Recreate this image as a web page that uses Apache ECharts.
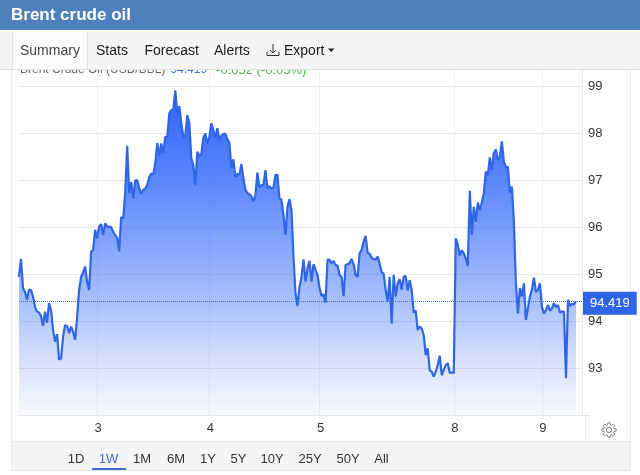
<!DOCTYPE html>
<html>
<head>
<meta charset="utf-8">
<title>Brent crude oil</title>
<script src="https://cdn.jsdelivr.net/npm/echarts@6/dist/echarts.min.js"></script>
<style>
  html, body { margin: 0; padding: 0; background: #fff; }
  #chart { width: 640px; height: 475px; }
</style>
</head>
<body>
<div id="chart"></div>
<script>
// Week of Brent quotes, one reading per slot of the session scale
const prices = [
  94.94,95.32,94.70,94.62,94.45,94.67,94.66,94.52,94.30,94.20,
  94.18,94.10,93.90,94.20,93.96,94.38,94.23,93.81,93.56,93.72,
  93.18,93.20,93.67,93.91,93.89,93.74,93.88,93.77,93.60,94.08,
  94.66,94.94,95.03,95.16,94.84,94.66,95.48,95.51,95.94,95.76,
  96.01,96.06,95.83,96.08,96.01,96.01,96.00,95.90,95.83,95.77,
  95.48,96.21,96.18,96.72,97.73,96.72,96.96,96.61,96.99,97.00,
  96.82,96.70,96.79,96.82,96.89,97.06,97.14,97.11,97.35,97.79,
  97.51,97.78,97.57,97.92,97.91,98.42,98.49,98.50,98.91,98.42,
  98.57,98.21,97.92,97.94,98.38,98.21,97.46,97.32,96.89,97.60,
  97.51,97.55,97.89,97.99,97.78,97.92,98.21,98.06,97.89,98.10,
  97.85,97.94,97.98,97.98,97.87,97.79,97.25,97.44,97.06,97.13,
  97.11,97.34,97.04,96.79,96.72,96.70,96.65,96.55,96.68,97.16,
  96.84,96.89,96.89,97.21,96.82,96.87,96.82,96.84,97.11,97.11,
  96.61,96.58,96.26,95.83,96.43,96.59,96.36,95.37,94.59,94.32,
  94.73,94.94,95.31,94.84,95.12,95.28,94.84,95.21,95.09,94.98,
  94.70,94.53,94.57,94.39,95.31,95.30,95.23,95.28,95.19,95.18,
  94.98,94.94,94.53,95.19,95.21,95.23,95.32,95.21,94.98,94.94,
  95.44,95.51,95.69,95.81,95.45,95.43,95.35,95.31,95.31,95.37,
  95.23,95.03,95.01,94.66,94.41,94.94,93.94,94.98,94.52,94.80,
  94.89,94.67,94.94,94.96,94.65,94.87,94.66,94.18,94.22,93.81,
  93.88,93.84,93.70,93.28,93.42,92.95,92.92,92.82,92.92,93.06,
  93.26,92.85,92.96,93.06,93.10,92.90,92.90,92.90,95.76,95.62,
  95.40,95.50,95.44,95.33,95.17,96.77,95.83,96.43,96.11,96.52,
  96.36,96.52,96.72,97.18,97.11,97.48,97.21,97.57,97.65,97.43,
  97.50,97.82,97.39,97.28,97.28,96.73,96.86,96.11,94.80,94.16,
  94.70,94.52,94.80,94.02,94.27,94.52,94.66,94.92,94.62,94.66,
  94.80,94.30,94.16,94.23,94.34,94.22,94.27,94.38,94.30,94.34,
  94.18,94.20,94.20,92.78,94.45,94.32,94.36,94.36,94.419
];
const lastPrice = 94.419;
const slotCount = 282;
const dayLabels = ['3', '4', '5', '8', '9'];
const daySlots = [39, 95, 150, 217, 261];
const priceMin = 92;
const priceMax = 99.362;
const priceStep = 1;
const tabNames = ['Summary', 'Stats', 'Forecast', 'Alerts', 'Export'];
const rangeNames = ['1D', '1W', '1M', '6M', '1Y', '5Y', '10Y', '25Y', '50Y', 'All'];

const categories = Array.from({ length: slotCount }, (_, i) => {
  const d = daySlots.indexOf(i);
  return d >= 0 ? dayLabels[d] : '';
});
const isDaySlot = i => daySlots.includes(i);

const FONT = '"Liberation Sans", Arial, sans-serif';
const Z = 100;

function label(text, x, y, fill, size, align, weight) {
  return {
    type: 'text', z: Z + 2, x, y,
    style: { text, fill, font: (weight || 'normal') + ' ' + size + 'px ' + FONT,
             textAlign: align || 'left', textVerticalAlign: 'middle' }
  };
}
function box(x, y, width, height, fill) {
  return { type: 'rect', z: Z, shape: { x, y, width, height }, style: { fill } };
}
function rule(x1, y1, x2, y2, stroke) {
  return { type: 'line', z: Z + 1, shape: { x1, y1, x2, y2 }, style: { stroke, lineWidth: 1 } };
}

// Settings cog for the lower right corner
function cogPoints(cx, cy) {
  const pts = [];
  for (let t = 0; t < 8; t++) {
    const a = t * Math.PI / 4;
    [[-0.30, 5.2], [-0.16, 7.2], [0.16, 7.2], [0.30, 5.2]].forEach(([da, r]) => {
      pts.push([cx + r * Math.cos(a + da), cy + r * Math.sin(a + da)]);
    });
  }
  return pts;
}

const tabX = [20, 96, 144.5, 214, 284];
const rangeX = [76, 108.5, 142, 176, 208, 238.5, 272, 310, 348, 381.5];

const chrome = [
  // Page header and tab strip, drawn over the top of the plot
  box(0, 0, 640, 30, '#4f80bc'),
  box(0, 30, 640, 39, '#f5f5f5'),
  rule(0, 69.5, 640, 69.5, '#e2e2e2'),
  box(12, 31, 75, 38, '#fbfbfb'),
  rule(12.5, 31, 12.5, 69, '#e2e2e2'),
  rule(87.5, 31, 87.5, 69, '#e2e2e2'),
  label('Brent crude oil', 11, 15, '#ffffff', 17, 'left', 'bold'),
  label(tabNames[0], tabX[0], 51, '#444444', 14),
  label(tabNames[1], tabX[1], 51, '#1c1c1c', 14),
  label(tabNames[2], tabX[2], 51, '#1c1c1c', 14),
  label(tabNames[3], tabX[3], 51, '#1c1c1c', 14),
  label(tabNames[4], tabX[4], 51, '#1c1c1c', 14),
  { type: 'polyline', z: Z + 1, shape: { points: [[267, 52], [267, 55.5], [279, 55.5], [279, 52]] },
    style: { stroke: '#333', lineWidth: 1, fill: null } },
  rule(273, 44, 273, 53, '#333'),
  { type: 'polyline', z: Z + 1, shape: { points: [[270, 50], [273, 53], [276, 50]] },
    style: { stroke: '#333', lineWidth: 1, fill: null } },
  { type: 'polygon', z: Z + 1, shape: { points: [[328, 48.5], [334.5, 48.5], [331.2, 52]] },
    style: { fill: '#222' } },
  // Frame lines around the chart body
  rule(11.5, 69, 11.5, 470, '#ececec'),
  rule(630.5, 69, 630.5, 291, '#ececec'),
  rule(630.5, 316, 630.5, 470, '#ececec'),
  rule(585.5, 415, 585.5, 441, '#ececec'),
  rule(582, 415.5, 590, 415.5, '#e6e6e6'),
  // Range selector
  box(12, 441, 618, 29, '#f5f5f5'),
  rule(12, 441.5, 630, 441.5, '#e8e8e8'),
  rule(12, 470.5, 630, 470.5, '#e4e4e4'),
  { type: 'rect', z: Z + 1, shape: { x: 92, y: 468, width: 34, height: 2 }, style: { fill: '#3a6cd4' } },
  ...rangeNames.map((n, i) => label(n, rangeX[i], 459.5, i === 1 ? '#3a6cd4' : '#333333', 13, 'center')),
  // Cog
  { type: 'polygon', z: Z + 1, shape: { points: cogPoints(609, 430) },
    style: { stroke: '#808080', lineWidth: 1, fill: null } },
  { type: 'circle', z: Z + 1, shape: { cx: 609, cy: 430, r: 2.6 },
    style: { stroke: '#808080', lineWidth: 1, fill: null } }
];

const chart = echarts.init(document.getElementById('chart'), null, { renderer: 'canvas' });
chart.setOption({
  animation: false,
  backgroundColor: '#ffffff',
  textStyle: { fontFamily: FONT },
  title: {
    text: '{a|Brent Crude Oil (USD/BBL)} {b|94.419} {c|-0.052 (-0.05%)}',
    left: 15, top: 56, z: 0,
    textStyle: {
      rich: {
        a: { fontSize: 12, fontWeight: 'normal', color: '#666666', fontFamily: FONT },
        b: { fontSize: 12, fontWeight: 'normal', color: '#3a6cd4', fontFamily: FONT },
        c: { fontSize: 13, fontWeight: 'normal', color: '#4caf50', fontFamily: FONT, padding: [0, 0, 0, 4] }
      }
    }
  },
  grid: { left: 19, right: 58, top: 69, bottom: 60 },
  xAxis: {
    type: 'category',
    data: categories,
    boundaryGap: false,
    axisLine: { show: true, lineStyle: { color: '#e6e6e6' } },
    axisTick: { show: false },
    axisLabel: {
      interval: isDaySlot, color: '#333333', fontSize: 13, margin: 7, fontFamily: FONT,
      padding: [0, 0, 0, 2]
    },
    splitLine: { show: true, interval: isDaySlot, lineStyle: { color: '#edf0f4', width: 1 } }
  },
  yAxis: {
    type: 'value',
    position: 'right',
    min: priceMin,
    max: priceMax,
    interval: priceStep,
    axisLine: { show: true, lineStyle: { color: '#e9e9e9' } },
    axisTick: { show: false },
    axisLabel: {
      color: '#333333', fontSize: 13, margin: 6, fontFamily: FONT,
      formatter: v => (Number.isInteger(v) && v > priceMin ? String(v) : '')
    },
    splitLine: { show: true, lineStyle: { color: '#e8e8e8', width: 1 } }
  },
  series: [{
    type: 'line',
    data: prices,
    showSymbol: false,
    smooth: false,
    sampling: 'none',
    z: 3,
    lineStyle: { color: '#2f66e8', width: 2.2 },
    itemStyle: { color: '#2f66e8' },
    areaStyle: {
      opacity: 1,
      color: new echarts.graphic.LinearGradient(0, 0, 0, 1, [
        { offset: 0, color: 'rgba(45,100,250,1)' },
        { offset: 0.28, color: 'rgba(50,105,250,0.8)' },
        { offset: 0.65, color: 'rgba(50,105,250,0.42)' },
        { offset: 0.86, color: 'rgba(60,110,245,0.18)' },
        { offset: 1, color: 'rgba(70,110,240,0.04)' }
      ])
    },
    markLine: {
      silent: true,
      symbol: 'none',
      animation: false,
      lineStyle: { color: '#3f74c4', type: 'dotted', width: 1 },
      label: {
        show: true,
        position: 'end',
        distance: 1,
        offset: [0, 2],
        formatter: () => lastPrice.toFixed(3),
        color: '#ffffff',
        fontSize: 13,
        fontFamily: FONT,
        backgroundColor: '#2f66e8',
        padding: [5, 7, 5, 7]
      },
      data: [{ yAxis: lastPrice }]
    }
  }],
  graphic: { elements: chrome }
});
</script>
</body>
</html>
